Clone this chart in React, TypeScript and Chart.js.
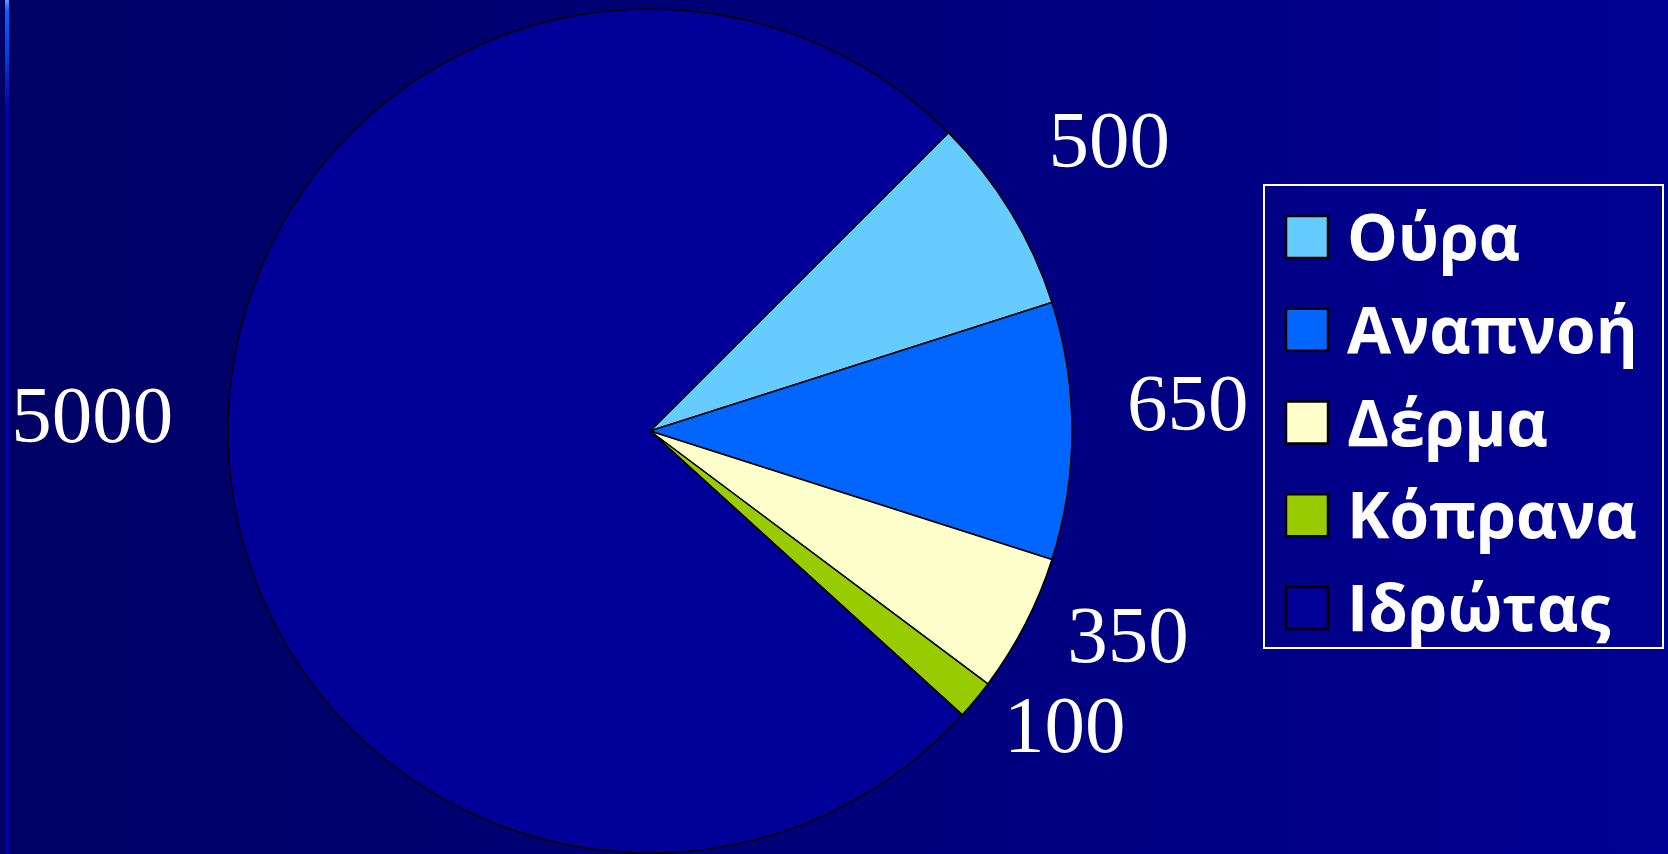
import React, { useEffect, useRef } from "react";
import { Chart, registerables } from "chart.js";

Chart.register(...registerables);

const categories = ["Ούρα", "Αναπνοή", "Δέρμα", "Κόπρανα", "Ιδρώτας"];
const values = [500, 650, 350, 100, 5000];
const sliceColors = ["#66CCFF", "#0066FF", "#FFFFCC", "#99CC00", "#000099"];

const W = 1668;
const H = 854;

const backgroundPlugin = {
  id: "slideBackground",
  beforeDraw(chart: any) {
    const ctx = chart.ctx as CanvasRenderingContext2D;
    ctx.save();
    const g = ctx.createLinearGradient(0, 0, W, 0);
    g.addColorStop(0, "#000064");
    g.addColorStop(1, "#000092");
    ctx.fillStyle = g;
    ctx.fillRect(0, 0, W, H);
    // thin accent stripe at the left edge
    const s = ctx.createLinearGradient(0, 0, 0, 110);
    s.addColorStop(0, "#7090FF");
    s.addColorStop(0.1, "#0066FF");
    s.addColorStop(0.5, "#0040D8");
    s.addColorStop(1, "#0000A8");
    ctx.fillStyle = s;
    ctx.fillRect(5, 0, 4, H);
    ctx.restore();
  },
};

const valueLabelPlugin = {
  id: "valueLabels",
  afterDatasetsDraw(chart: any) {
    const ctx = chart.ctx as CanvasRenderingContext2D;
    const meta = chart.getDatasetMeta(0);
    const data = chart.data.datasets[0].data as number[];
    ctx.save();
    ctx.font = "81px 'Liberation Serif'";
    ctx.fillStyle = "#FFFFFF";
    ctx.textAlign = "center";
    ctx.textBaseline = "middle";
    meta.data.forEach((arc: any, i: number) => {
      const { x, y, startAngle, endAngle, outerRadius } = arc.getProps(
        ["x", "y", "startAngle", "endAngle", "outerRadius"],
        true
      );
      const mid = (startAngle + endAngle) / 2;
      const text = String(data[i]);
      const w = ctx.measureText(text).width;
      const h = 56;
      const d = outerRadius + 55;
      const cx = x + Math.cos(mid) * d + (w / 2) * Math.cos(mid);
      const cy = y + Math.sin(mid) * d + (h / 2) * Math.sin(mid) - 25;
      ctx.fillText(text, cx, cy + 3);
    });
    ctx.restore();
  },
};

const legendPlugin = {
  id: "boxedLegend",
  afterDraw(chart: any) {
    const ctx = chart.ctx as CanvasRenderingContext2D;
    const ds = chart.data.datasets[0];
    const names = chart.data.labels as string[];
    const left = 1264;
    const top = 185;
    const right = 1663;
    const bottom = 648;
    const firstRow = 237;
    const step = 92.75;
    const box = 42;
    const boxX = 1286;
    const textX = 1347;
    ctx.save();
    ctx.strokeStyle = "#FFFFFF";
    ctx.lineWidth = 2;
    ctx.strokeRect(left, top, right - left, bottom - top);
    ctx.font = "bold 64px 'Open Sans'";
    ctx.textAlign = "left";
    ctx.textBaseline = "alphabetic";
    names.forEach((name, i) => {
      const cy = firstRow + i * step;
      ctx.fillStyle = ds.backgroundColor[i];
      ctx.fillRect(boxX, cy - box / 2, box, box);
      ctx.strokeStyle = "#000000";
      ctx.lineWidth = 2.5;
      ctx.strokeRect(boxX, cy - box / 2, box, box);
      ctx.fillStyle = "#FFFFFF";
      ctx.fillText(name, textX, cy + 23);
    });
    ctx.restore();
  },
};

export default function App() {
  const canvasRef = useRef<HTMLCanvasElement | null>(null);

  useEffect(() => {
    document.body.style.margin = "0";
    document.body.style.background = "#000066";
    const canvas = canvasRef.current;
    if (!canvas) return;
    const chart = new Chart(canvas, {
      type: "pie",
      data: {
        labels: categories,
        datasets: [
          {
            data: values,
            backgroundColor: sliceColors,
            borderColor: "#000000",
            borderWidth: 1.5,
            borderAlign: "center",
          },
        ],
      },
      options: {
        responsive: false,
        animation: false,
        devicePixelRatio: 1,
        events: [],
        rotation: 45,
        layout: {
          padding: { left: 0, right: 368, top: 8.25, bottom: 0.25 },
        },
        plugins: {
          legend: { display: false },
          tooltip: { enabled: false },
          title: { display: false },
        },
      },
      plugins: [backgroundPlugin, valueLabelPlugin, legendPlugin],
    });
    return () => chart.destroy();
  }, []);

  return (
    <div style={{ width: W, height: H }}>
      <canvas ref={canvasRef} width={W} height={H} style={{ display: "block" }} />
    </div>
  );
}
